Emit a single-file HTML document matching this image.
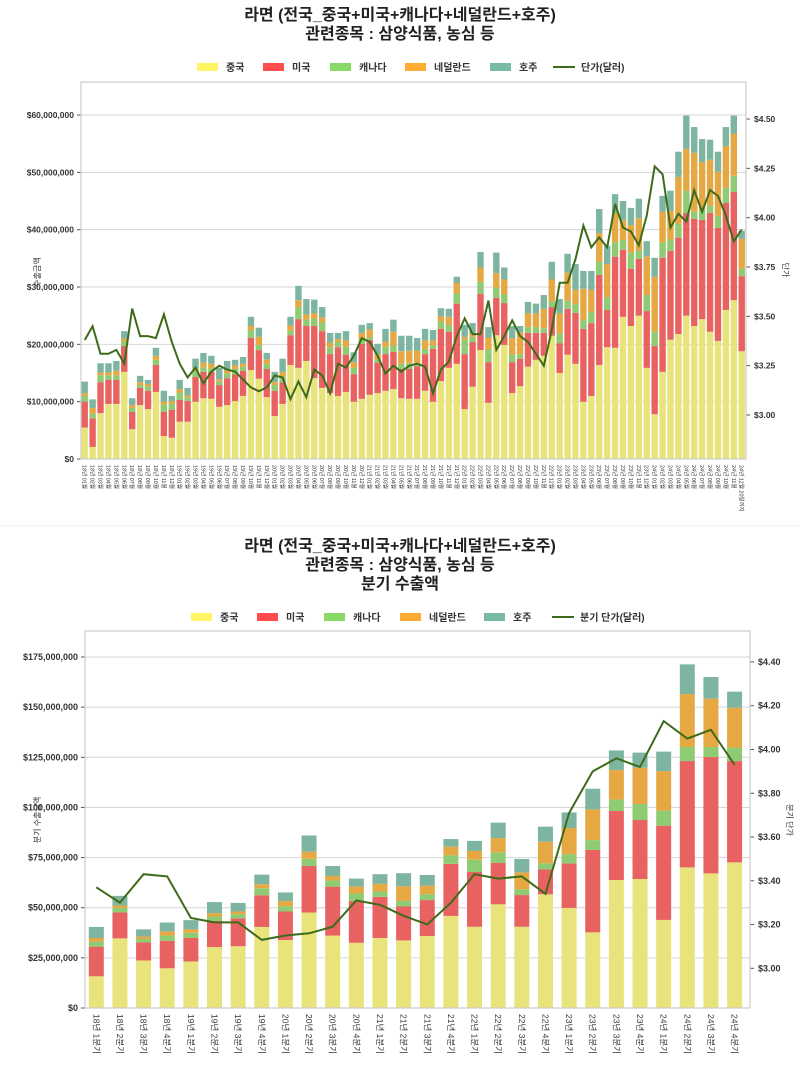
<!DOCTYPE html>
<html><head><meta charset="utf-8"><style>
body{margin:0;background:#fff;}
svg text{font-family:"Liberation Sans","Noto Sans CJK KR",sans-serif;}
</style></head><body>
<svg id="s" width="800" height="1061" xmlns="http://www.w3.org/2000/svg"></svg>
<script>
const M=[[5.5,4.5,1,0.5,2],[2.1,5,0.8,1,1.5],[8,5.4,1.2,0.5,1.6],[9.6,4.2,0.8,0.5,1.6],[9.6,4.2,0.8,0.8,1.7],[15.2,4.5,0.8,0.5,1.3],[5.2,3,0.7,0.5,1.2],[9.4,3,0.5,0.5,1.1],[8.7,3.2,0.8,0.4,0.7],[11.7,4.7,0.9,0.7,1.4],[4,4.2,1.3,0.5,1.9],[3.7,4.9,1.0,0.5,0.9],
[6.5,3.8,1.3,0.6,1.6],[6.5,3.6,0.6,0.4,1.3],[10,4.3,1,0.5,1.7],[10.6,4.6,0.8,0.8,1.7],[10.5,4.7,0.6,0.8,1.4],[9.1,3.8,0.6,0.4,2.0],[9.4,4.7,0.8,0.5,1.7],[10.1,4.7,0.9,0.6,1.0],[11,4.4,0.7,0.5,1.2],[15.5,5.6,1.4,0.7,1.6],[14,5,0.9,1.4,1.6],[10.8,4.9,0.9,0.8,1.1],
[7.5,4.4,1.0,0.5,1.8],[9.6,3.8,1.0,0.8,2.3],[16.4,5.2,0.8,0.9,1.5],[15.9,8.5,2.1,1.2,2.5],[17.1,6.1,1.1,0.9,2.7],[14.1,9.1,1.3,0.9,2.4],[12.4,9.9,1.5,0.9,1.8],[11.5,6.8,1.2,0.8,1.7],[11,8.5,0.9,0.5,1.1],[11.7,6.5,1.4,1.1,1.6],[10,4.8,1.1,1.0,1.7],[10.5,9.6,0.8,1.1,1.4],
[11.2,9.6,0.4,1.4,1.1],[11.5,5.3,0.5,1.0,1.8],[11.9,6.4,1.2,1.0,2.2],[12.2,6.5,1.1,2.4,2.1],[10.6,5.1,0.9,2.2,2.7],[10.5,5.2,1.0,2.2,2.6],[10.5,5.7,0.6,2.1,2.2],[11.9,6.4,0.9,1.5,2.0],[10,9.2,0.6,0.9,1.8],[13.6,9.1,1.3,0.9,1.4],[15.9,6.3,1.2,1.4,1.4],[16.6,10.5,1.8,1.8,1.1],
[8.7,9.6,2.5,0.5,2.1],[12.6,7.8,0.9,0.5,1.9],[19,9.8,2.1,2.5,2.7],[9.8,7.1,2.2,2.1,1.8],[21.6,6.5,1.8,2.5,3.6],[19.9,7.3,1.5,2.6,2.1],[11.5,5.4,1.3,2.9,2.1],[12.7,4.8,0.8,3.8,1.1],[16.1,5.9,1.0,2.4,2.0],[17.3,4.7,1.0,2.4,1.7],[18,4,0.8,3.4,2.4],[21.5,5,1.0,3.8,3.1],
[15,5.2,1.7,3.5,2.5],[18.2,8,1.4,4.9,3.3],[16.6,8.9,1.5,2.5,4.5],[10,12.7,1.5,5.5,3.1],[11,12.7,1.9,3.9,3.3],[16.4,15.7,2.3,5,4.2],[19.5,6.5,2.2,5.8,3.2],[19.4,15.9,2.5,5.1,3.3],[24.8,11.7,1.7,3.5,3.3],[23.2,10,2.8,4.8,3.0],[25,9.9,1.5,5.6,3.4],[15.9,9.9,2.8,6.7,2.7],
[7.8,11.9,2.5,9.6,3.3],[15.2,19.9,2.7,5.3,2.8],[20.8,15.5,2.0,5.0,3.5],[21.8,16.8,2.4,8.2,4.4],[25,17.9,3.9,7.3,5.8],[23.2,18.7,1.2,10.3,4.5],[24.4,17.3,1.8,8.3,4.0],[22.2,20.7,1.3,8.0,3.5],[20.6,19.7,2.1,7.7,3.5],[26,18.7,2.6,7.3,3.3],[27.7,18.9,2.8,7.3,3.2],[18.8,13.1,1.3,5.2,1.4]];
const P=[3.38,3.45,3.31,3.31,3.33,3.26,3.54,3.40,3.40,3.39,3.51,3.37,3.26,3.19,3.24,3.16,3.22,3.25,3.23,3.22,3.18,3.14,3.12,3.14,3.20,3.19,3.08,3.17,3.09,3.23,3.20,3.11,3.26,3.24,3.30,3.39,3.37,3.30,3.21,3.25,3.22,3.25,3.26,3.245,3.11,3.23,3.27,3.40,3.49,3.41,3.41,3.58,3.33,3.40,3.48,3.40,3.37,3.31,3.25,3.43,3.67,3.67,3.79,3.96,3.85,3.90,3.85,4.07,3.95,3.93,3.86,4.01,4.26,4.22,3.95,4.02,3.98,4.14,4.03,4.14,4.11,4.01,3.88,3.94];
const Q=[[15.8,30.6,33.2,34.9,40.4],[34.7,47.6,49.9,51.1,55.9],[23.7,32.7,34.4,35.6,39.2],[19.8,33.5,36.1,38.2,42.6],[23.2,34.9,37.5,39.2,43.8],[30.4,43.5,45.6,47.3,52.8],[30.8,44.7,46.8,48.1,52.4],[40.4,56.2,59.7,61.7,66.5],[33.9,48.1,50.7,53.3,57.6],[47.6,70.8,74.4,77.9,86],[36.1,60.5,63.6,65.8,70.8],[32.5,53.3,57.1,60.5,64.5],[34.9,55.4,58.1,61.9,66.7],[33.7,50.6,53.4,60.7,67.2],[35.9,53.8,56.7,61.0,66.3],[45.9,71.9,76.1,80.4,84.2],[40.5,67.8,73.9,78.3,83.3],[51.7,72.3,77.6,84.7,92.4],[40.5,56.3,59.2,67.6,74.3],[56.7,69.1,72.1,82.9,90.4],[49.9,72.1,76.6,89.7,97.5],[37.7,78.8,83.7,99,109.3],[63.8,98.2,103.9,118.6,128.4],[64.3,93.7,101.7,119.8,127.3],[43.9,90.9,98.4,118.1,127.8],[70.1,123.1,130.1,156.5,171.3],[67.1,125.1,130.1,154.2,165],[72.6,123.1,129.8,149.7,157.7]];
const QP=[3.37,3.30,3.43,3.42,3.23,3.21,3.21,3.13,3.15,3.16,3.19,3.31,3.29,3.24,3.20,3.30,3.43,3.41,3.42,3.34,3.71,3.90,3.96,3.92,4.13,4.05,4.09,3.93];
const C=['#e9e37c','#e86262','#8ecb72','#e6a843','#7db5a0'];
const LC=['#fff566','#ff4d4d','#88d966','#ffaa33','#77bba5'];
let h='';
function t(x,y,s,sz,o){h+=`<text x="${x}" y="${y}" font-size="${sz}" ${o||''}>${s}</text>`;}
function fmt(v){return '$'+v.toLocaleString('en-US');}
// titles
t(400,20,'라면 (전국_중국+미국+캐나다+네덜란드+호주)',16,'text-anchor="middle" font-weight="bold" fill="#222"');
t(400,39,'관련종목 : 삼양식품, 농심 등',16,'text-anchor="middle" font-weight="bold" fill="#222"');
t(400,551,'라면 (전국_중국+미국+캐나다+네덜란드+호주)',16,'text-anchor="middle" font-weight="bold" fill="#222"');
t(400,570,'관련종목 : 삼양식품, 농심 등',16,'text-anchor="middle" font-weight="bold" fill="#222"');
t(400,589,'분기 수출액',16,'text-anchor="middle" font-weight="bold" fill="#222"');
h+='<line x1="0" y1="526" x2="800" y2="526" stroke="#eee" stroke-width="1"/>';
function legend(y,xs,names){for(let i=0;i<5;i++){h+=`<rect x="${xs[i]}" y="${y-4}" width="21" height="8" fill="${LC[i]}"/>`;t(xs[i]+29,y+4,names[i],10,'fill="#333" font-weight="bold"');}
h+=`<line x1="${xs[5]}" y1="${y}" x2="${xs[5]+22}" y2="${y}" stroke="#3e6b1a" stroke-width="2"/>`;t(xs[5]+28,y+4,names[5],10,'fill="#333" font-weight="bold"');}
const nm=['중국','미국','캐나다','네덜란드','호주'];
legend(67,[197,263,330,405,490,553],[...nm,'단가(달러)']);
legend(617,[191,257,324,400,484,552],[...nm,'분기 단가(달러)']);
// top chart
const L1=81,R1=746,T1=82,B1=459;
for(let k=0;k<=6;k++){const y=B1-k*57.33;h+=`<line x1="${L1}" y1="${y}" x2="${R1}" y2="${y}" stroke="#d6d6d6" stroke-width="1"/><line x1="${L1-4}" y1="${y}" x2="${L1}" y2="${y}" stroke="#555"/>`;t(L1-7,y+3,fmt(k*10000000),8.5,'text-anchor="end" font-weight="bold" fill="#333"');}
for(let k=0;k<=6;k++){const p=3+k*0.25,y=415-k*49.33;h+=`<line x1="${R1}" y1="${y}" x2="${R1+4}" y2="${y}" stroke="#555"/>`;t(R1+8,y+3,'$'+p.toFixed(2),8.5,'font-weight="bold" fill="#333"');}
const yr=['18','19','20','21','22','23','24'];
for(let i=0;i<84;i++){const cx=84.7+i*7.916;let acc=0;for(let j=0;j<5;j++){const v=M[i][j];const y0=B1-acc*5.733,y1=B1-(acc+v)*5.733;h+=`<rect x="${cx-3.2}" y="${y1}" width="6.4" height="${y0-y1}" fill="${C[j]}"/>`;acc+=v;}
const lab=i==83?'24년 12월 20일까지':`${yr[Math.floor(i/12)]}년 ${String(i%12+1).padStart(2,'0')}월`;
t(0,0,lab,5.5,`transform="translate(${cx-2},${B1+6}) rotate(90)" fill="#333"`);}
let pts=P.map((p,i)=>`${(84.7+i*7.916).toFixed(1)},${(415-(p-3)*197.3).toFixed(1)}`).join(' ');
h+=`<polyline points="${pts}" fill="none" stroke="#3e6b1a" stroke-width="2"/>`;
h+=`<rect x="${L1}" y="${T1}" width="${R1-L1}" height="${B1-T1}" fill="none" stroke="#ccc" stroke-width="1.2"/>`;
t(0,0,'수출금액',8,'transform="translate(40,272) rotate(-90)" text-anchor="middle" fill="#333"');
t(0,0,'단가',8,'transform="translate(783,270) rotate(90)" text-anchor="middle" fill="#333"');
// bottom
const L2=85,R2=750,T2=631,B2=1008;
for(let k=0;k<=7;k++){const y=B2-k*50.14;h+=`<line x1="${L2}" y1="${y}" x2="${R2}" y2="${y}" stroke="#d6d6d6" stroke-width="1"/><line x1="${L2-4}" y1="${y}" x2="${L2}" y2="${y}" stroke="#555"/>`;t(L2-7,y+3,fmt(k*25000000),9,'text-anchor="end" font-weight="bold" fill="#333"');}
for(let k=0;k<=7;k++){const p=3+k*0.2,y=968.3-k*43.76;h+=`<line x1="${R2}" y1="${y}" x2="${R2+4}" y2="${y}" stroke="#555"/>`;t(R2+8,y+3,'$'+p.toFixed(2),9,'font-weight="bold" fill="#333"');}
for(let i=0;i<28;i++){const cx=96.3+i*23.64;const q=Q[i];let prev=0;for(let j=0;j<5;j++){const y0=B2-prev*2.006,y1=B2-q[j]*2.006;h+=`<rect x="${cx-7.5}" y="${y1}" width="15" height="${y0-y1}" fill="${C[j]}"/>`;prev=q[j];}
t(0,0,`${yr[Math.floor(i/4)]}년 ${i%4+1}분기`,8.5,`transform="translate(${cx-3},${B2+6}) rotate(90)" fill="#333"`);}
pts=QP.map((p,i)=>`${(96.3+i*23.64).toFixed(1)},${(968.3-(p-3)*218.8).toFixed(1)}`).join(' ');
h+=`<polyline points="${pts}" fill="none" stroke="#3e6b1a" stroke-width="2"/>`;
h+=`<rect x="${L2}" y="${T2}" width="${R2-L2}" height="${B2-T2}" fill="none" stroke="#ccc" stroke-width="1.2"/>`;
t(0,0,'분기 수출금액',8,'transform="translate(40,820) rotate(-90)" text-anchor="middle" fill="#333"');
t(0,0,'분기 단가',8,'transform="translate(787,820) rotate(90)" text-anchor="middle" fill="#333"');
document.getElementById('s').innerHTML=h;
</script>
</body></html>
